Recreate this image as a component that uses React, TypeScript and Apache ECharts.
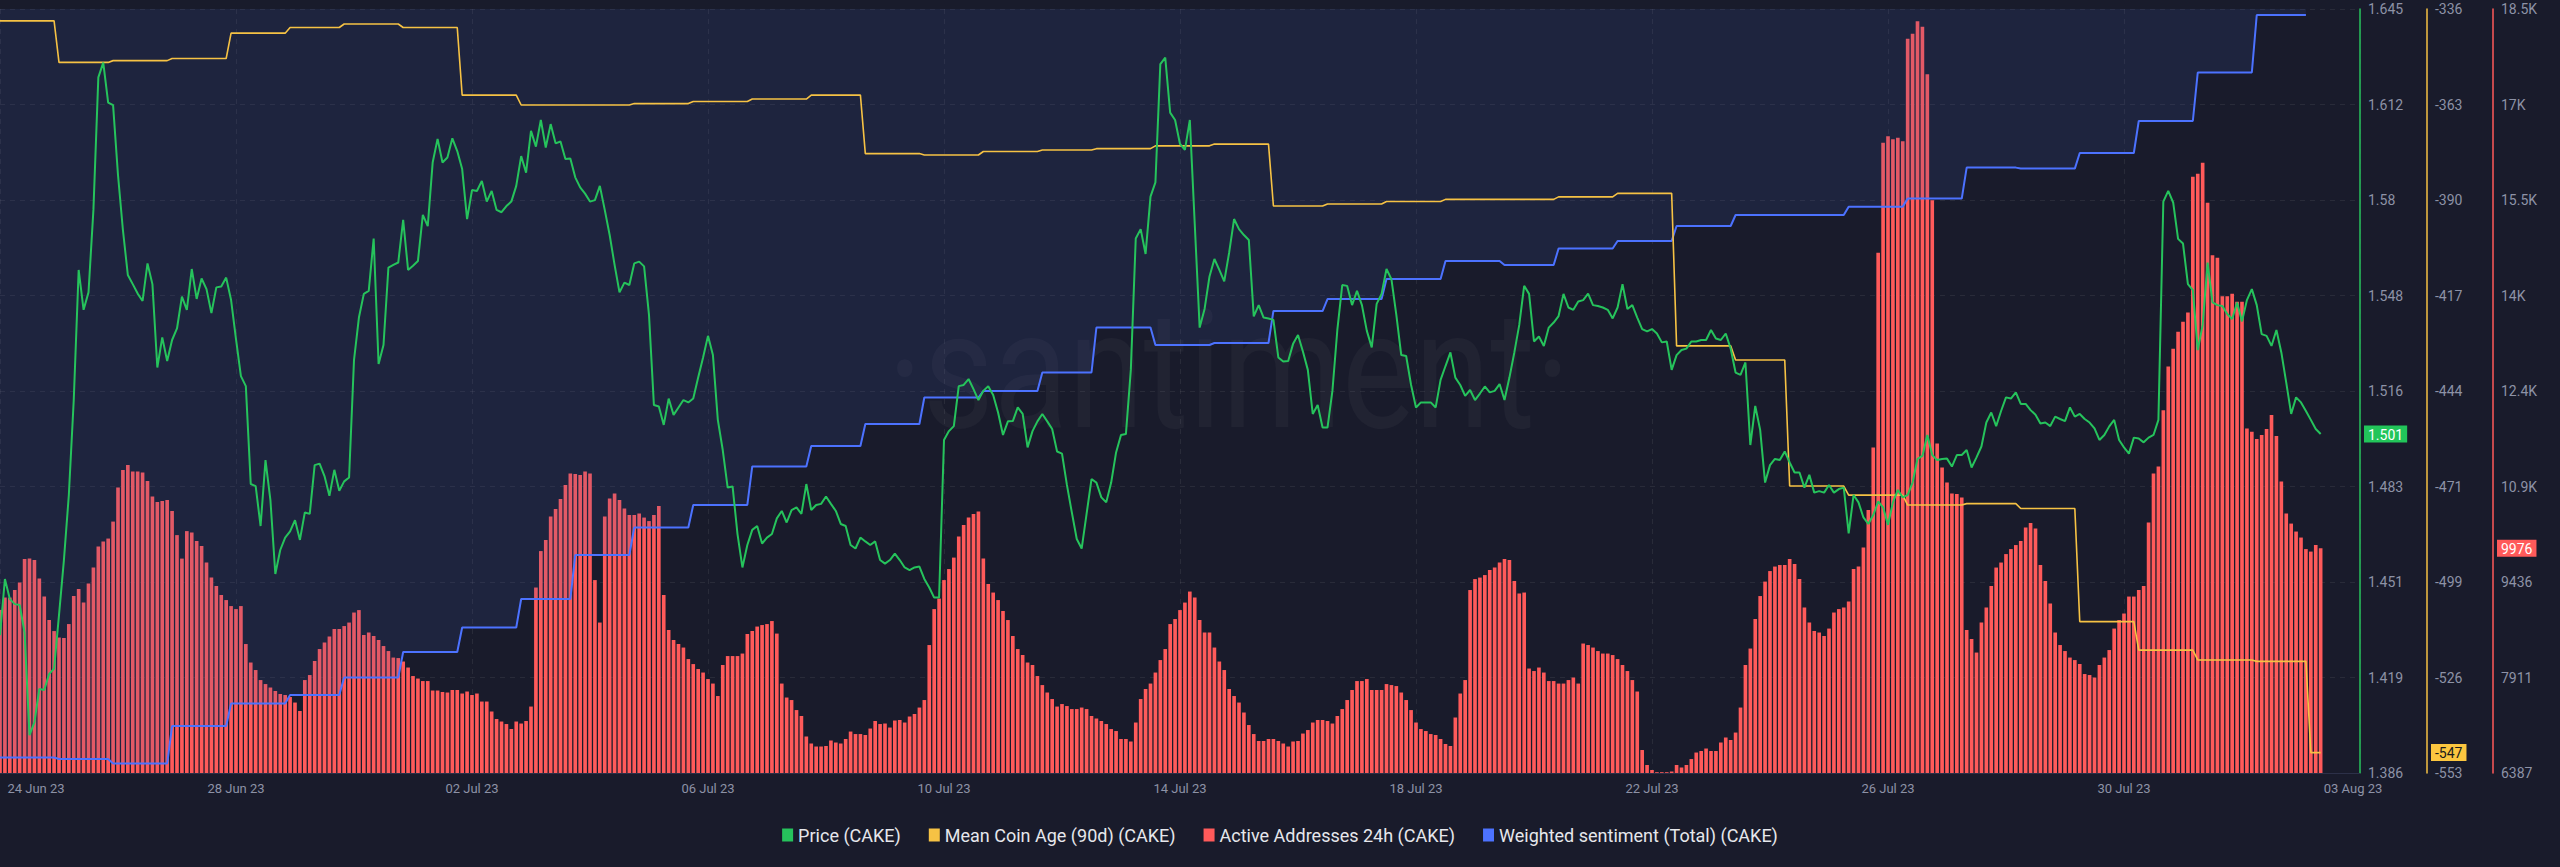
import React, { useEffect, useRef } from 'react';
import * as echarts from 'echarts';

// ---------- axis categories: 2-hour slots, 24 Jun 2023 00:00 -> 03 Aug 2023 00:00 ----------
const SLOT_COUNT = 481;
const START_UTC = Date.UTC(2023, 5, 24);
const MONTHS = ['Jan', 'Feb', 'Mar', 'Apr', 'May', 'Jun', 'Jul', 'Aug', 'Sep', 'Oct', 'Nov', 'Dec'];
const categories: string[] = Array.from({ length: SLOT_COUNT }, (_, i) => {
  const d = new Date(START_UTC + i * 2 * 3600 * 1000);
  const dd = String(d.getUTCDate()).padStart(2, '0');
  const hh = String(d.getUTCHours()).padStart(2, '0');
  return `${dd} ${MONTHS[d.getUTCMonth()]} ${String(d.getUTCFullYear()).slice(2)} ${hh}:00`;
});

// ---------- Price (CAKE) ----------
const priceA = [1.4330, 1.4520, 1.4452, 1.4435, 1.4432, 1.4339, 1.3992, 1.4035, 1.4148, 1.4145, 1.4199, 1.4217, 1.4398, 1.4584, 1.4804, 1.5125, 1.5565, 1.5430, 1.5489, 1.5768, 1.6216, 1.6266, 1.6131, 1.6122, 1.5886, 1.5700, 1.5548, 1.5517, 1.5485, 1.5460, 1.5587, 1.5517, 1.5235, 1.5337, 1.5257, 1.5328, 1.5367, 1.5475, 1.5430, 1.5568, 1.5467, 1.5536, 1.5500, 1.5419, 1.5506, 1.5509, 1.5539, 1.5463, 1.5331, 1.5206, 1.5172, 1.4841, 1.4834, 1.4699, 1.4922, 1.4787, 1.4537, 1.4618, 1.4660, 1.4681, 1.4719, 1.4652, 1.4745, 1.4740, 1.4905, 1.4910, 1.4868, 1.4801, 1.4889, 1.4818, 1.4850, 1.4863, 1.5260, 1.5404, 1.5484, 1.5494, 1.5671, 1.5247, 1.5311, 1.5573, 1.5582, 1.5590, 1.5734, 1.5565, 1.5579, 1.5595, 1.5751, 1.5713, 1.5928, 1.6008, 1.5928, 1.5945, 1.6010, 1.5967, 1.5906, 1.5737, 1.5835, 1.5832];
const priceB = [1.5866, 1.5796, 1.5832, 1.5768, 1.5760, 1.5781, 1.5796, 1.5849, 1.5950, 1.5894, 1.6035, 1.5982, 1.6072, 1.5979, 1.6058, 1.5993, 1.5999, 1.5940, 1.5942, 1.5878, 1.5844, 1.5823, 1.5796, 1.5801, 1.5849, 1.5768, 1.5683, 1.5582, 1.5489, 1.5522, 1.5514, 1.5587, 1.5593, 1.5577, 1.5413, 1.5108, 1.5103, 1.5041, 1.5130, 1.5075, 1.5100, 1.5125, 1.5117, 1.5130, 1.5201, 1.5269, 1.5342, 1.5277, 1.5058, 1.4956, 1.4829, 1.4833, 1.4672, 1.4559, 1.4635, 1.4686, 1.4699, 1.4640, 1.4660, 1.4672, 1.4725, 1.4750, 1.4711, 1.4753, 1.4762, 1.4740, 1.4841, 1.4753, 1.4770, 1.4774, 1.4799, 1.4774, 1.4750, 1.4706, 1.4699, 1.4635, 1.4623, 1.4660, 1.4647, 1.4635, 1.4647, 1.4584, 1.4572, 1.4584, 1.4606, 1.4584, 1.4559, 1.4550, 1.4559, 1.4562, 1.4520, 1.4491, 1.4457, 1.4457, 1.4990];
const priceC = [1.5020, 1.5037, 1.5172, 1.5176, 1.5196, 1.5162, 1.5125, 1.5156, 1.5172, 1.5142, 1.5083, 1.5007, 1.5053, 1.5054, 1.5100, 1.5078, 1.4965, 1.5020, 1.5053, 1.5078, 1.5053, 1.5027, 1.4951, 1.4944, 1.4838, 1.4745, 1.4655, 1.4623, 1.4740, 1.4858, 1.4846, 1.4796, 1.4779, 1.4846, 1.4948, 1.5007, 1.5010, 1.5227, 1.5671, 1.5703, 1.5619, 1.5813, 1.5861, 1.6261, 1.6283, 1.6097, 1.6072, 1.5991, 1.5971, 1.6072, 1.5720, 1.5370, 1.5433, 1.5543, 1.5602, 1.5565, 1.5526, 1.5624, 1.5737, 1.5703, 1.5683, 1.5666, 1.5408, 1.5446, 1.5404, 1.5401, 1.5396, 1.5269, 1.5255, 1.5257, 1.5315, 1.5345, 1.5289, 1.5227, 1.5078, 1.5108, 1.5032, 1.5032, 1.5156, 1.5362, 1.5514, 1.5511, 1.5446, 1.5494, 1.5446, 1.5359, 1.5303, 1.5450, 1.5484, 1.5568, 1.5534, 1.5413, 1.5277, 1.5274, 1.5176, 1.5100];
const priceD = [1.5117, 1.5117, 1.5117, 1.5100, 1.5193, 1.5240, 1.5286, 1.5201, 1.5176, 1.5139, 1.5159, 1.5125, 1.5147, 1.5171, 1.5151, 1.5156, 1.5179, 1.5125, 1.5201, 1.5286, 1.5379, 1.5511, 1.5484, 1.5323, 1.5340, 1.5308, 1.5370, 1.5387, 1.5409, 1.5484, 1.5438, 1.5430, 1.5458, 1.5463, 1.5485, 1.5446, 1.5443, 1.5438, 1.5430, 1.5401, 1.5438, 1.5517, 1.5433, 1.5446, 1.5404, 1.5365, 1.5357, 1.5365, 1.5350, 1.5320, 1.5323, 1.5227, 1.5277, 1.5294, 1.5299, 1.5323, 1.5323, 1.5328, 1.5328, 1.5362, 1.5333, 1.5328, 1.5350, 1.5299, 1.5218, 1.5210, 1.5252, 1.4973, 1.5105, 1.5024, 1.4846, 1.4905, 1.4926, 1.4922, 1.4951, 1.4914, 1.4880, 1.4880, 1.4829, 1.4872, 1.4812, 1.4817, 1.4812, 1.4838, 1.4812, 1.4824, 1.4829, 1.4674, 1.4804, 1.4779, 1.4728, 1.4706, 1.4736, 1.4782, 1.4762];
const priceE = [1.4703, 1.4779, 1.4821, 1.4796, 1.4804, 1.4846, 1.4926, 1.4936, 1.5007, 1.4939, 1.4922, 1.4926, 1.4927, 1.4900, 1.4939, 1.4939, 1.4956, 1.4897, 1.4931, 1.4968, 1.5049, 1.5083, 1.5037, 1.5088, 1.5134, 1.5130, 1.5151, 1.5112, 1.5112, 1.5091, 1.5075, 1.5046, 1.5049, 1.5037, 1.5069, 1.5061, 1.5054, 1.5100, 1.5069, 1.5078, 1.5061, 1.5049, 1.5029, 1.4990, 1.5007, 1.5036, 1.5058, 1.4990, 1.4965, 1.4944, 1.4998, 1.4995, 1.4982, 1.4998, 1.5007, 1.5058, 1.5796, 1.5832, 1.5793, 1.5670, 1.5654, 1.5517, 1.5497, 1.5294, 1.5379, 1.5590, 1.5455, 1.5446, 1.5443, 1.5416, 1.5399, 1.5455, 1.5391, 1.5463, 1.5500, 1.5446, 1.5348, 1.5342, 1.5308, 1.5362, 1.5286, 1.5184, 1.5078, 1.5134, 1.5117, 1.5088, 1.5058, 1.5027, 1.5010];

// ---------- Active Addresses 24h (CAKE) ----------
const activeA = [8988, 9188, 9188, 9308, 9427, 9802, 9810, 9786, 9491, 9204, 8829, 8653, 8550, 8542, 8765, 9212, 9324, 9108, 9411, 9667, 10002, 10082, 10130, 10401, 10944, 11223, 11303, 11199, 11199, 11183, 11047, 10800, 10712, 10728, 10744, 10569, 10185, 9810, 10249, 10225, 10090, 10010, 9747, 9507, 9372, 9228, 9148, 9052, 9004, 9052, 8446, 8151, 8031, 7871, 7807, 7752, 7696, 7648, 7632, 7600, 7512, 7377, 7871, 7951, 8175, 8366, 8470, 8566, 8685, 8685, 8733, 8789, 8949, 8988, 8590, 8630, 8574, 8510, 8414, 8334, 8230, 8222, 8167, 8071, 7935, 7895, 7855, 7855, 7704, 7704, 7680, 7672, 7712, 7712, 7656, 7688, 7632, 7656];
const activeB = [7528, 7528, 7369, 7249, 7209, 7169, 7089, 7209, 7177, 7217, 7448, 9348, 9930, 10106, 10481, 10600, 10760, 10983, 11167, 11159, 11143, 11199, 11167, 9467, 8789, 10481, 10768, 10848, 10744, 10608, 10505, 10505, 10529, 10465, 10409, 10505, 10648, 9228, 8669, 8510, 8446, 8390, 8206, 8126, 8047, 7991, 7887, 7815, 7616, 8111, 8254, 8254, 8254, 8294, 8605, 8653, 8725, 8749, 8765, 8813, 8613, 7815, 7592, 7552, 7392, 7297, 6970, 6858, 6810, 6810, 6818, 6906, 6874, 6858, 6930, 7049, 7009, 7009, 6994, 7097, 7217, 7169, 7177, 7113, 7225, 7233, 7193, 7289, 7329, 7432, 7552, 8430, 9004, 9172, 9467];
const activeC = [9643, 9826, 10162, 10345, 10465, 10521, 10561, 9810, 9403, 9268, 9148, 8973, 8829, 8574, 8366, 8270, 8151, 8111, 7935, 7791, 7672, 7568, 7448, 7488, 7456, 7408, 7408, 7432, 7408, 7297, 7257, 7217, 7169, 7089, 7057, 6930, 6930, 6890, 7193, 7568, 7728, 7815, 7991, 8190, 8366, 8765, 8845, 8988, 9108, 9284, 9188, 8829, 8630, 8630, 8390, 8167, 8031, 7728, 7616, 7512, 7353, 7153, 7009, 6898, 6898, 6930, 6930, 6898, 6858, 6810, 6890, 6898, 7017, 7073, 7193, 7233, 7233, 7217, 7177, 7297, 7408, 7552, 7712, 7855, 7855, 7887, 7712, 7712, 7712, 7807, 7791, 7775, 7672, 7552, 7392, 7193];
const activeD = [7089, 7057, 7009, 6994, 6930, 6850, 6818, 7273, 7656, 7871, 9308, 9483, 9507, 9547, 9627, 9667, 9747, 9802, 9786, 9451, 9252, 9268, 8055, 8015, 8071, 7991, 7855, 7855, 7815, 7815, 7871, 7911, 7815, 8454, 8430, 8390, 8334, 8294, 8294, 8270, 8206, 8111, 8015, 7871, 7688, 6754, 6515, 6435, 6400, 6400, 6400, 6411, 6515, 6475, 6515, 6610, 6714, 6738, 6778, 6738, 6738, 6874, 6954, 6914, 7033, 7432, 8111, 8374, 8845, 9212, 9443, 9611, 9683, 9707, 9707, 9802, 9723, 9483, 9028, 8789, 8653, 8630, 8574, 8693, 8949, 9004, 9028, 9124, 9643, 9683, 9986, 10584, 11582, 14694, 16450];
const activeE = [16554, 16506, 16530, 16474, 18110, 18190, 18389, 18301, 17543, 15532, 11646, 11263, 11023, 10848, 10840, 10784, 8669, 8526, 8310, 8789, 9028, 9372, 9667, 9747, 9882, 9962, 10026, 10090, 10305, 10377, 10289, 9707, 9451, 9092, 8630, 8430, 8334, 8230, 8190, 8127, 7967, 7951, 7911, 8111, 8230, 8350, 8693, 8829, 8933, 9204, 9204, 9308, 9372, 10385, 11167, 11279, 12180, 12875, 13162, 13433, 13593, 13737, 15907, 15955, 16131, 15492, 14654, 14614, 14000, 14000, 14040, 13912, 13912, 11885, 11837, 11718, 11782, 11877, 12101, 11766, 11039, 10529, 10369, 10242, 10146, 9962, 9922, 10026, 9976];

// ---------- Mean Coin Age (90d) (CAKE): level changes (slot where each level starts) ----------
const coinAgeStarts = [0, 12, 23, 35, 47, 59, 70, 82, 94, 106, 129, 141, 153, 165, 176, 188, 200, 212, 223, 235, 247, 259, 270, 282, 294, 317, 329, 341, 353, 364, 376, 388, 400, 411, 423, 435, 447, 459, 470];
const coinAgeLevels = [-339.2, -351.0, -350.5, -349.9, -342.7, -341.1, -340.1, -341.1, -360.3, -363.1, -362.7, -362.1, -361.4, -360.3, -376.9, -377.3, -376.3, -375.9, -375.5, -374.7, -374.2, -391.8, -391.2, -390.5, -389.9, -389.2, -388.2, -431.5, -435.5, -471.3, -473.9, -476.7, -476.3, -477.7, -509.8, -517.9, -520.7, -521.1, -547];
const coinAgeEnd = 472;

// ---------- Weighted sentiment (Total) (CAKE): level changes (unitless, hidden scale 0..100) ----------
const sentimentStarts = [0, 12, 23, 35, 47, 59, 70, 82, 94, 106, 117, 129, 141, 153, 165, 176, 188, 200, 212, 223, 235, 247, 259, 270, 282, 294, 306, 317, 329, 341, 353, 376, 388, 400, 411, 423, 435, 447, 459];
const sentimentLevels = [2.03, 1.83, 1.24, 6.15, 9.10, 10.21, 12.50, 15.84, 19.04, 22.77, 28.53, 32.13, 35.08, 40.12, 42.80, 45.68, 49.15, 50.0, 52.42, 58.31, 56.02, 56.28, 60.47, 62.04, 64.66, 67.02, 66.49, 68.65, 69.63, 71.60, 73.04, 74.13, 75.18, 79.24, 79.11, 81.15, 85.34, 91.69, 99.21];
const sentimentEnd = 469;

// ---------- axis scales (tick labels come out as on the reference) ----------
const PRICE_MIN = 1.3864;
const PRICE_STEP = 0.03229;
const PRICE_MAX = 1.64472;
const AGE_MIN = -552.8;
const AGE_STEP = 27.12;
const AGE_MAX = -335.84;
const ACTIVE_MIN = 6387.2;
const ACTIVE_STEP = 1524.6;
const ACTIVE_MAX = 18584;

const SERIES_NAMES = ['Price (CAKE)', 'Mean Coin Age (90d) (CAKE)', 'Active Addresses 24h (CAKE)', 'Weighted sentiment (Total) (CAKE)'];

const GREEN = '#26c35c';
const YELLOW = '#f6c244';
const RED = '#ff5a5a';
const BLUE = '#4c72ff';
const AXIS_TEXT = '#8d92a6';
const GRID_LINE = 'rgba(255,255,255,0.07)';
const FONT = 'Roboto, "Noto Sans", sans-serif';

function stepPoints(starts: number[], levels: number[], end: number) {
  const pts: [number, number][] = [];
  starts.forEach((s, k) => {
    const e = k + 1 < starts.length ? starts[k + 1] - 1 : end;
    pts.push([s, levels[k]]);
    if (e !== s) pts.push([e, levels[k]]);
  });
  return pts;
}

function tag(value: number, bg: string, fg: string, text: string) {
  return {
    show: true,
    status: 'show',
    value,
    type: 'line',
    snap: false,
    triggerTooltip: false,
    lineStyle: { opacity: 0, width: 0 },
    handle: { show: false },
    label: {
      show: true,
      formatter: () => text,
      backgroundColor: bg,
      color: fg,
      fontSize: 14,
      fontFamily: FONT,
      padding: [2, 4, 1, 4],
      margin: 4,
      borderRadius: 0,
      shadowBlur: 0,
    },
  };
}

export default function App() {
  const ref = useRef<HTMLDivElement>(null);

  useEffect(() => {
    document.body.style.margin = '0';
    document.body.style.background = '#191b2b';
    if (!ref.current) return;
    const chart = echarts.init(ref.current, null, { renderer: 'svg' });

    const price = [...priceA, ...priceB, ...priceC, ...priceD, ...priceE];
    const active = [...activeA, ...activeB, ...activeC, ...activeD, ...activeE];
    const coinAge = stepPoints(coinAgeStarts, coinAgeLevels, coinAgeEnd);
    const sentiment = stepPoints(sentimentStarts, sentimentLevels, sentimentEnd);
    const lastPrice = price[price.length - 1];
    const lastAge = coinAgeLevels[coinAgeLevels.length - 1];
    const lastActive = active[active.length - 1];

    const showIdx = (i: number) => i % 48 === 0;

    const option: any = {
      animation: false,
      backgroundColor: '#191b2b',
      textStyle: { fontFamily: FONT },
      graphic: [
        {
          type: 'text',
          silent: true,
          z: 0,
          x: 1229,
          y: 370,
          scaleX: 0.83,
          style: {
            text: '\u00b7santiment\u00b7',
            fill: 'rgba(255,255,255,0.035)',
            fontSize: 165,
            fontFamily: 'Roboto, sans-serif',
            align: 'center',
            verticalAlign: 'middle',
          },
        },
      ],
      grid: { left: 0, right: 200, top: 9, bottom: 94, containLabel: false },
      legend: {
        top: 821,
        left: 'center',
        icon: 'rect',
        itemWidth: 11,
        itemHeight: 13,
        itemGap: 28,
        textStyle: { color: '#e6e7ec', fontSize: 18, fontFamily: FONT },
        data: SERIES_NAMES,
      },
      xAxis: {
        type: 'category',
        data: categories,
        boundaryGap: false,
        axisLine: { show: true, lineStyle: { color: '#2c3048' } },
        axisTick: { show: false },
        axisLabel: {
          interval: (i: number) => showIdx(i),
          color: AXIS_TEXT,
          fontSize: 13,
          margin: 9,
          formatter: (v: string, i: number) => {
            const t = v.slice(0, 9);
            if (i === 0) return `{first|${t}}`;
            if (i === SLOT_COUNT - 1) return `{last|${t}}`;
            return t;
          },
          rich: {
            first: { padding: [0, 0, 0, 72], color: AXIS_TEXT, fontSize: 13, fontFamily: FONT },
            last: { padding: [0, 14, 0, 0], color: AXIS_TEXT, fontSize: 13, fontFamily: FONT },
          },
        },
        splitLine: {
          show: true,
          interval: (i: number) => showIdx(i),
          lineStyle: { color: GRID_LINE, type: [5, 5] },
        },
      },
      yAxis: [
        {
          type: 'value',
          position: 'right',
          offset: 0,
          min: PRICE_MIN,
          max: PRICE_MAX,
          interval: PRICE_STEP,
          axisLine: { show: true, lineStyle: { color: GREEN, width: 1.5 } },
          axisTick: { show: false },
          axisLabel: {
            color: AXIS_TEXT,
            fontSize: 14,
            margin: 8,
            formatter: (v: number) => String(parseFloat(v.toFixed(3))),
          },
          splitLine: { show: true, lineStyle: { color: GRID_LINE, type: [5, 5] } },
          axisPointer: tag(lastPrice, '#22c55a', '#ffffff', String(parseFloat(lastPrice.toFixed(3)))),
        },
        {
          type: 'value',
          position: 'right',
          offset: 67,
          min: AGE_MIN,
          max: AGE_MAX,
          interval: AGE_STEP,
          axisLine: { show: true, lineStyle: { color: YELLOW, width: 1.5 } },
          axisTick: { show: false },
          axisLabel: { color: AXIS_TEXT, fontSize: 14, margin: 8, formatter: (v: number) => String(Math.round(v)) },
          splitLine: { show: false },
          axisPointer: tag(lastAge, '#fcc63f', '#1b1b1b', String(Math.round(lastAge))),
        },
        {
          type: 'value',
          position: 'right',
          offset: 133,
          min: ACTIVE_MIN,
          max: ACTIVE_MAX,
          interval: ACTIVE_STEP,
          axisLine: { show: true, lineStyle: { color: RED, width: 1.5 } },
          axisTick: { show: false },
          axisLabel: {
            color: AXIS_TEXT,
            fontSize: 14,
            margin: 8,
            formatter: (v: number) => (v >= 10000 ? `${Math.floor(v / 100) / 10}K` : String(Math.floor(v))),
          },
          splitLine: { show: false },
          axisPointer: tag(lastActive, RED, '#ffffff', String(lastActive)),
        },
        { type: 'value', show: false, min: 0, max: 100, splitLine: { show: false } },
      ],
      series: [
        {
          name: SERIES_NAMES[0],
          type: 'line',
          yAxisIndex: 0,
          data: price,
          showSymbol: false,
          symbol: 'none',
          lineStyle: { color: GREEN, width: 2 },
          itemStyle: { color: GREEN },
          z: 5,
        },
        {
          name: SERIES_NAMES[1],
          type: 'line',
          yAxisIndex: 1,
          data: coinAge,
          showSymbol: false,
          symbol: 'none',
          lineStyle: { color: YELLOW, width: 1.6 },
          itemStyle: { color: YELLOW },
          z: 4,
        },
        {
          name: SERIES_NAMES[2],
          type: 'bar',
          yAxisIndex: 2,
          data: active,
          barWidth: '74%',
          itemStyle: { color: RED },
          z: 2,
        },
        {
          name: SERIES_NAMES[3],
          type: 'line',
          yAxisIndex: 3,
          data: sentiment,
          showSymbol: false,
          symbol: 'none',
          lineStyle: { color: BLUE, width: 2 },
          itemStyle: { color: BLUE },
          areaStyle: { origin: 'end', color: 'rgba(62,92,180,0.21)' },
          z: 3,
        },
      ],
    };

    chart.setOption(option);
    return () => chart.dispose();
  }, []);

  return <div ref={ref} style={{ width: 2560, height: 867 }} />;
}
